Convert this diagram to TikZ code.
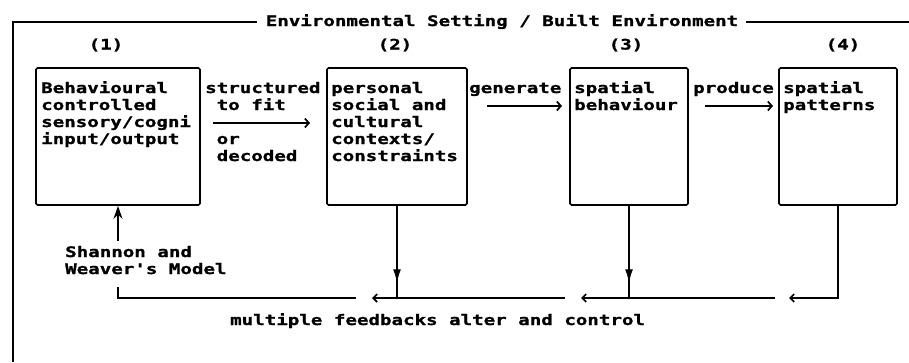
\documentclass[tikz,border=0pt]{standalone}
\usepackage{fontspec}
\newfontfamily\dotfont[FakeStretch=1.32, FakeBold=1.2]{DejaVu Sans Mono Bold}
\usetikzlibrary{arrows.meta,decorations.markings,calc}

\begin{document}
\begin{tikzpicture}[x=1pt,y=-1pt,
  every node/.style={inner sep=0pt,
    font=\dotfont\fontsize{14.5pt}{17pt}\selectfont},
  txt/.style={anchor=base west, align=left},
  stage/.style={draw, line width=1.7pt, rounded corners=1.5pt,
    minimum height=137pt},
  frameline/.style={line width=1.7pt},
  flow/.style={line width=1.7pt,
    -{Straight Barb[length=4pt,width=9pt,line width=1.7pt]}},
  feed/.style={line width=1.7pt,
    -{Straight Barb[length=4pt,width=8pt,line width=1.7pt]}},
  feedline/.style={line width=1.7pt},
  drop/.style={line width=1.8pt, postaction={decorate},
    decoration={markings, mark=at position 0.84 with
      {\arrow{Latex[length=14pt,width=8pt]}}}},
  upflow/.style={line width=1.8pt, -{Stealth[length=13pt,width=9pt]}}]

\useasboundingbox (0,0) rectangle (909,362);

% outer frame with its title
\node[anchor=base] (ttl) at (502,26) {Environmental Setting / Built Environment};
\coordinate (fTL) at (13,22);
\coordinate (fBL) at (13,362);
\coordinate (fTR) at (909,22);
\draw[frameline] (fBL) -- (fTL) -- ($(ttl.west|-fTL)+(-9,0)$);
\draw[frameline] ($(ttl.east|-fTL)+(8,0)$) -- (fTR);

% stage numbers
\node (n1) at (106,45) {(1)};
\node (n2) at (395,45) {(2)};
\node (n3) at (626,45) {(3)};
\node (n4) at (843,45) {(4)};

% stage boxes
\node[stage, minimum width=164pt] (b1) at (118,136.5) {};
\node[stage, minimum width=140pt] (b2) at (397,136.5) {};
\node[stage, minimum width=118pt] (b3) at (629,136.5) {};
\node[stage, minimum width=118pt] (b4) at (838,136.5) {};

% box contents (each anchored on the baseline of its last line)
\node[txt] (t1) at (41,144) {Behavioural\\controlled\\sensory/cogni\\input/output};
\node[txt] (t2) at (331,161) {personal\\social and\\cultural\\contexts/\\constraints};
\node[txt] (t3) at (574,110) {spatial\\behaviour};
\node[txt] (t4) at (783,110) {spatial\\patterns};

% link labels
\node[txt] (l12) at (205,161) {structured\\~to fit\\[17pt]~or\\~decoded};
\node[txt] (l23) at (469,93) {generate};
\node[txt] (l34) at (693,93) {produce};

% forward links
\coordinate (a12s) at (213,123);
\coordinate (a12e) at (310,123);
\coordinate (a23s) at (487,106);
\coordinate (a23e) at (562,106);
\coordinate (a34s) at (705,106);
\coordinate (a34e) at (773,106);
\draw[flow] (a12s) -- (a12e);
\draw[flow] (a23s) -- (a23e);
\draw[flow] (a34s) -- (a34e);

% model note under box 1
\node[txt] (sh) at (65,274) {Shannon and\\Weaver's Model};
\draw[upflow] ($(b1.south|-sh.north)+(0,-5)$) -- (b1.south);

% feedback loop
\coordinate (fy) at (0,298);
\coordinate (fA) at (789,298);
\coordinate (fB1) at (775,298);
\coordinate (fB2) at (581,298);
\coordinate (fC1) at (565,298);
\coordinate (fC2) at (372,298);
\coordinate (fD1) at (356,298);
\coordinate (fD2) at (118,298);
\coordinate (fD3) at (118,287);
\draw[feed] (b4.south) -- (b4.south|-fy) -- (fA);
\draw[feed] (fB1) -- (fB2);
\draw[feed] (fC1) -- (fC2);
\draw[feedline] (fD1) -- (fD2) -- (fD3);
\draw[drop] (b2.south) -- (b2.south|-fy);
\draw[drop] (b3.south) -- (b3.south|-fy);

\node[txt] (fbt) at (230,325) {multiple feedbacks alter and control};

\end{tikzpicture}
\end{document}
